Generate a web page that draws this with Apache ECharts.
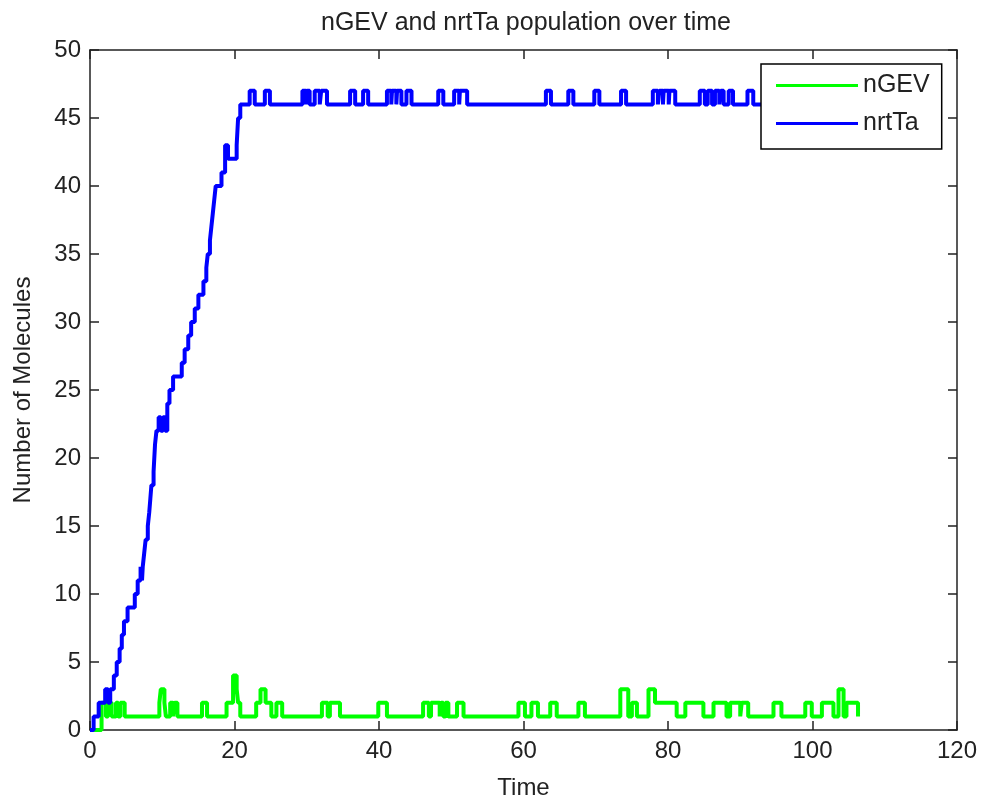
<!DOCTYPE html>
<html>
<head>
<meta charset="utf-8">
<script src="https://cdn.jsdelivr.net/npm/echarts@6/dist/echarts.min.js"></script>
<style>
  html, body { margin: 0; padding: 0; background: #fff; }
  #chart { width: 984px; height: 805px; }
</style>
</head>
<body>
<div id="chart"></div>
<script>
// step data: [time, count], value holds until next time
var nGEV = [
  [0, 0], [1.6, 2], [2.2, 1], [2.5, 2], [3.0, 1], [3.6, 2], [3.9, 1], [4.2, 2], [4.8, 1],
  [9.6, 2], [9.8, 3], [10.3, 2], [10.5, 1], [11.1, 2], [11.5, 1], [11.7, 2], [12.1, 1],
  [15.5, 2], [16.2, 1], [18.9, 2], [19.8, 4], [20.3, 3], [20.5, 2], [20.8, 1],
  [23.0, 2], [23.6, 3], [24.3, 2], [25.1, 1], [25.8, 2], [26.6, 1],
  [32.1, 2], [32.9, 1], [33.2, 2], [34.6, 1], [39.9, 2], [41.1, 1],
  [46.1, 2], [46.9, 1], [47.2, 2], [48.4, 1], [48.6, 2], [48.9, 1], [49.2, 2], [49.6, 1],
  [50.8, 2], [51.7, 1], [59.3, 2], [60.2, 1], [61.1, 2], [62.0, 1], [63.7, 2], [64.6, 1],
  [67.6, 2], [68.5, 1], [73.4, 3], [74.5, 1], [75.0, 2], [75.7, 1], [77.3, 3], [78.2, 2],
  [81.2, 1], [82.4, 2], [84.9, 1], [86.3, 2], [88.1, 1], [88.6, 2], [90.0, 1], [90.2, 2],
  [91.1, 1], [94.6, 2], [95.7, 1], [99.0, 2], [99.9, 1], [101.3, 2], [102.9, 1],
  [103.6, 3], [104.3, 1], [104.7, 2], [106.3, 1]
];
var nrtTa = [
  [0, 0], [0.5, 1], [1.2, 2], [2.1, 3], [2.5, 2], [2.8, 3], [3.3, 4], [3.7, 5], [4.1, 6],
  [4.4, 7], [4.7, 8], [5.2, 9], [6.2, 10], [6.6, 11], [7.0, 12], [7.2, 11], [7.3, 12],
  [7.5, 13], [7.7, 14], [8.0, 15], [8.2, 16], [8.35, 17], [8.5, 18], [8.8, 19], [9.0, 21],
  [9.2, 22], [9.5, 23], [9.8, 22], [10.1, 23], [10.4, 22], [10.7, 24], [11.0, 25],
  [11.5, 26], [12.7, 27], [13.1, 28], [13.6, 29], [14.0, 30], [14.5, 31], [15.0, 32],
  [15.7, 33], [16.1, 34], [16.3, 35], [16.6, 36], [16.8, 37], [17.0, 38], [17.2, 39],
  [17.4, 40], [18.2, 41], [18.7, 43], [19.1, 42], [20.3, 43], [20.5, 45], [20.8, 46],
  [22.1, 47], [22.8, 46], [24.2, 47], [24.9, 46], [29.4, 47], [29.9, 46], [30.0, 47],
  [30.4, 46], [31.1, 47], [31.8, 46], [32.0, 47], [32.8, 46], [36.0, 47], [36.7, 46],
  [37.8, 47], [38.5, 46], [41.1, 47], [41.7, 46], [41.8, 47], [42.4, 46], [42.5, 47],
  [43.1, 46], [43.8, 47], [44.5, 46], [48.2, 47], [48.9, 46], [50.4, 47], [51.1, 46],
  [51.2, 47], [52.2, 46], [63.1, 47], [63.8, 46], [66.2, 47], [66.9, 46], [69.8, 47],
  [70.5, 46], [73.5, 47], [74.2, 46], [77.9, 47], [78.6, 46], [78.8, 47], [79.3, 46],
  [79.4, 47], [80.1, 46], [80.2, 47], [81.0, 46], [84.4, 47], [85.1, 46], [85.5, 47],
  [86.1, 46], [86.5, 47], [87.1, 46], [87.3, 47], [87.7, 46], [88.4, 47], [89.0, 46],
  [91.0, 47], [91.8, 46], [106.3, 46]
];
var xTicks = { min: 0, max: 120, interval: 20 };
var yTicks = { min: 0, max: 50, interval: 5 };

var font = "'Liberation Sans', Arial, sans-serif";
var ink = "#222";

function frameAxis(pos, range, labels, extra) {
  var ax = {
    type: "value",
    position: pos,
    min: range.min,
    max: range.max,
    interval: range.interval,
    axisLine: { show: true, onZero: false, lineStyle: { color: ink, width: 1.5 } },
    axisTick: { show: true, inside: true, length: 9, lineStyle: { color: ink, width: 1.5 } },
    axisLabel: { show: labels, color: ink, fontSize: 24, fontFamily: font, margin: 9 },
    splitLine: { show: false }
  };
  return Object.assign(ax, extra || {});
}

var myChart = echarts.init(document.getElementById("chart"));
var option = {
  animation: false,
  backgroundColor: "#fff",
  title: {
    text: "nGEV and nrtTa population over time",
    left: 521,
    textAlign: "center",
    top: 6,
    textStyle: { fontSize: 25, fontWeight: "normal", color: ink, fontFamily: font }
  },
  grid: { left: 90, right: 27, top: 50, bottom: 73, containLabel: false },
  legend: {
    orient: "vertical",
    left: 761,
    top: 64,
    data: ["nGEV", "nrtTa"],
    icon: "rect",
    itemWidth: 82,
    itemHeight: 3,
    itemGap: 13,
    itemTextGap: 8,
    padding: [9, 12, 13, 15],
    backgroundColor: "#fff",
    borderColor: "#000",
    borderWidth: 1.5,
    borderRadius: 0,
    textStyle: { fontSize: 25, color: ink, fontFamily: font, lineHeight: 24 }
  },
  xAxis: [
    frameAxis("bottom", xTicks, true, {
      name: "Time",
      nameLocation: "middle",
      nameGap: 46,
      nameTextStyle: { fontSize: 24, color: ink, fontFamily: font }
    }),
    frameAxis("top", xTicks, false)
  ],
  yAxis: [
    frameAxis("left", yTicks, true, {
      name: "Number of Molecules",
      nameLocation: "middle",
      nameGap: 55,
      nameTextStyle: { fontSize: 24, color: ink, fontFamily: font }
    }),
    frameAxis("right", yTicks, false)
  ],
  series: [
    {
      name: "nGEV",
      type: "line",
      step: "end",
      showSymbol: false,
      color: "#00ff00",
      lineStyle: { width: 4, color: "#00ff00" },
      data: nGEV
    },
    {
      name: "nrtTa",
      type: "line",
      step: "end",
      showSymbol: false,
      color: "#0000ff",
      lineStyle: { width: 4, color: "#0000ff" },
      data: nrtTa
    }
  ]
};
myChart.setOption(option);
</script>
</body>
</html>
